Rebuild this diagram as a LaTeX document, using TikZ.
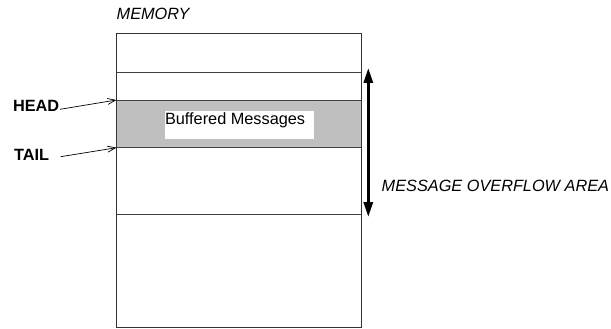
\documentclass[tikz,border=0pt]{standalone}
\usepackage{fontspec}
\setmainfont{Liberation Sans}
\usetikzlibrary{arrows.meta}
\begin{document}
\begin{tikzpicture}[x=1pt,y=-1pt,
  every node/.style={inner sep=0pt, outer sep=0pt},
  txt/.style={anchor=base west, font=\fontsize{16.3}{19}\selectfont},
  itxt/.style={txt, font=\fontsize{16.3}{19}\selectfont\itshape},
  btxt/.style={txt, font=\fontsize{16.3}{19}\selectfont\bfseries},
  divider/.style={draw=black!75, line width=0.9pt},
  pointer/.style={draw=black, line width=0.7pt, -{Straight Barb[length=8pt,width=6pt]}},
  span/.style={draw=black, line width=3pt, {Triangle[length=15pt,width=9pt]}-{Triangle[length=15pt,width=9pt]}}]
\useasboundingbox (0,0) rectangle (611,329);

% memory block
\node[draw=black!80, line width=0.9pt, minimum width=245pt, minimum height=294pt,
      anchor=north west] (mem) at (116.5,33) {};
% buffered region
\node[fill=black!25, minimum width=245pt, minimum height=47.7pt,
      anchor=north west] (buf) at (116.5,100) {};
\node[fill=white, minimum width=149pt, minimum height=28pt,
      anchor=north west] (lbl) at (165,110.7) {};
\node[txt] (buftxt) at (165,124.5) {Buffered Messages};

% dividers
\coordinate (d1l) at (116.5,72);    \coordinate (d1r) at (361.5,72);
\coordinate (d2l) at (116.5,100);   \coordinate (d2r) at (361.5,100);
\coordinate (d3l) at (116.5,147.7); \coordinate (d3r) at (361.5,147.7);
\coordinate (d4l) at (116.5,214);   \coordinate (d4r) at (361.5,214);
\draw[divider] (d1l) -- (d1r);
\draw[divider] (d2l) -- (d2r);
\draw[divider] (d3l) -- (d3r);
\draw[divider] (d4l) -- (d4r);
\draw[draw=black!80, line width=0.9pt] (mem.north west) rectangle (mem.south east);

% labels
\node[itxt] (memlbl) at (116.7,20) {MEMORY};
\node[btxt] (head) at (13,111.7) {HEAD};
\node[btxt] (tail) at (14,160.7) {TAIL};
\node[itxt] (over) at (381.7,191) {MESSAGE OVERFLOW AREA};

% pointers
\coordinate (hs) at (60,109.3);
\coordinate (ts) at (60.7,156.7);
\draw[pointer] (hs) -- (d2l);
\draw[pointer] (ts) -- (d3l);

% overflow span
\coordinate (ot) at (368.3,68);
\coordinate (ob) at (368.3,217);
\draw[span] (ot) -- (ob);
\end{tikzpicture}
\end{document}
